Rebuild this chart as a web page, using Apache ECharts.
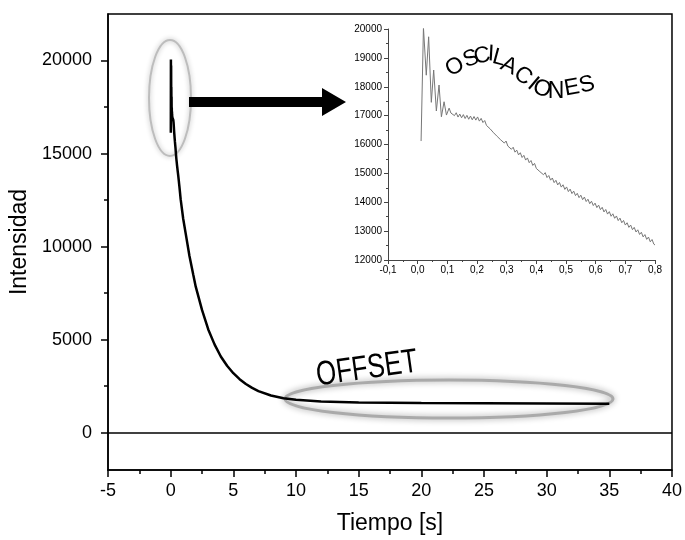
<!DOCTYPE html>
<html>
<head>
<meta charset="utf-8">
<script src="https://cdn.jsdelivr.net/npm/echarts@6/dist/echarts.min.js"></script>
<style>html,body{margin:0;padding:0;background:#fff}#c{width:685px;height:540px}</style>
</head>
<body>
<div id="c"></div>
<script>
// ---- data ----
const xMainTicks = [-5, 0, 5, 10, 15, 20, 25, 30, 35, 40];
const yMainTicks = [0, 5000, 10000, 15000, 20000];
const yMainMinorTicks = [2500, 7500, 12500, 17500];

// first large oscillations (t [s], intensity)
const spikes = [[0.0115,16120],[0.0195,20050],[0.029,18400],[0.037,19730],[0.046,17460],[0.054,18580],[0.063,17160],[0.072,18060],[0.080,16960],[0.089,17480],[0.097,17020]];

// small ripple from 0.1 s to 0.8 s
const ripple = [
[0.106,17260],[0.112,17090],[0.118,17150],[0.124,17000],[0.130,17100],[0.136,16950],[0.142,17055],[0.148,16925],[0.154,17035],[0.160,16900],
[0.166,17010],[0.172,16875],[0.178,16985],[0.184,16855],[0.190,16970],[0.196,16845],[0.202,16955],[0.208,16810],[0.214,16905],[0.220,16760],
[0.226,16830],[0.232,16660],[0.238,16725],[0.244,16545],[0.250,16595],[0.256,16405],[0.262,16460],[0.268,16280],[0.274,16340],[0.280,16160],
[0.286,16225],[0.292,16050],[0.298,16120],[0.304,15945],[0.310,16010],[0.316,15835],[0.322,15905],[0.328,15735],[0.334,15805],[0.340,15640],
[0.346,15715],[0.352,15550],[0.358,15625],[0.364,15460],[0.370,15535],[0.376,15370],[0.382,15445],[0.388,15275],[0.394,15345],[0.400,15170],
[0.406,15235],[0.412,15060],[0.418,15125],[0.424,14955],[0.430,15025],[0.436,14855],[0.442,14925],[0.448,14765],[0.454,14840],[0.460,14680],
[0.466,14760],[0.472,14600],[0.478,14685],[0.484,14525],[0.490,14605],[0.496,14445],[0.502,14530],[0.508,14370],[0.514,14455],[0.520,14300],
[0.526,14385],[0.532,14230],[0.538,14310],[0.544,14160],[0.550,14245],[0.556,14090],[0.562,14180],[0.568,14025],[0.574,14105],[0.580,13950],
[0.586,14035],[0.592,13885],[0.598,13970],[0.604,13815],[0.610,13900],[0.616,13745],[0.622,13825],[0.628,13665],[0.634,13750],[0.640,13590],
[0.646,13675],[0.652,13515],[0.658,13600],[0.664,13445],[0.670,13525],[0.676,13365],[0.682,13450],[0.688,13290],[0.694,13370],[0.700,13210],
[0.706,13290],[0.712,13130],[0.718,13210],[0.724,13050],[0.730,13130],[0.736,12970],[0.742,13045],[0.748,12885],[0.754,12960],[0.760,12800],
[0.766,12880],[0.772,12715],[0.778,12795],[0.784,12630],[0.790,12710],[0.796,12550],[0.800,12520]
];

// slow decay towards the offset
const decay = [[1.0,11500],[1.2,10700],[1.5,9500],[1.8,8500],[2.0,7850],[2.5,6600],[3.0,5550],[3.5,4750],[4.0,4100],[4.5,3600],[5.0,3200],[5.5,2880],[6.0,2620],[6.5,2410],[7.0,2240],[8.0,2000],[9.0,1860],[10.0,1770],[12.0,1680],[15.0,1630],[20.0,1600],[25.0,1585],[30.0,1570],[35.0,1560]];

const mainData = spikes.concat(ripple, decay);
const insetData = spikes.concat(ripple);

const FONT = 'Liberation Sans, Arial, sans-serif';

// letters of the arched label (pixel layout)
const arcLetters = [
  ['O',455,67,32],['S',471,59,20],['C',482,56,10],['I',491,54,-3],['L',499,58,-15],['A',509,66,-25],
  ['C',523,76,-35],['I',533,84,-40],['O',542,89,-20],['N',556,92,0],['E',572,88,10],['S',587,85,15]
];

const chart = echarts.init(document.getElementById('c'), null, {renderer:'canvas'});

const graphics = [
  {type:'ellipse', shape:{cx:170, cy:98, rx:21, ry:58}, silent:true, z:1,
   style:{fill:'none', stroke:'#bdbdbd', lineWidth:2, shadowBlur:5, shadowColor:'rgba(0,0,0,0.3)'}},
  {type:'ellipse', shape:{cx:449, cy:399, rx:164, ry:19}, silent:true, z:1,
   style:{fill:'none', stroke:'#aaaaaa', lineWidth:3, shadowBlur:6, shadowColor:'rgba(0,0,0,0.4)'}},
  {type:'polygon', shape:{points:[[189,97],[322,97],[322,88],[346,102],[322,116],[322,107],[189,107]]},
   style:{fill:'#000'}, silent:true, z:5},
  {type:'text', x:367, y:369, rotation:8*Math.PI/180, scaleX:0.76, silent:true, z:5,
   style:{text:'OFFSET', font:'34px '+FONT, fill:'#000', align:'center', verticalAlign:'middle'}}
];
arcLetters.forEach(function(l){
  graphics.push({type:'text', x:l[1], y:l[2], rotation:l[3]*Math.PI/180, silent:true, z:5,
    style:{text:l[0], font:'23px '+FONT, fill:'#000', align:'center', verticalAlign:'middle'}});
});

const plain = function(v){ return String(v); };

chart.setOption({
  backgroundColor:'#fff',
  animation:false,
  textStyle:{fontFamily:FONT},
  grid:[
    {left:108, right:10, top:14, bottom:69, show:true, borderColor:'#000', borderWidth:1.5, backgroundColor:'transparent'},
    {left:388, right:30, top:29, bottom:280}
  ],
  xAxis:[
    {type:'value', gridIndex:0, min:-5, max:40, interval:5,
     axisLine:{show:true, onZero:false, lineStyle:{color:'#000', width:1.5}},
     axisTick:{show:true, length:7, lineStyle:{color:'#000', width:1.5}},
     minorTick:{show:true, splitNumber:2, length:4, lineStyle:{color:'#000', width:1.5}},
     axisLabel:{fontSize:18, color:'#000', margin:12, fontFamily:FONT, formatter:plain},
     splitLine:{show:false},
     name:'Tiempo [s]', nameLocation:'middle', nameGap:42,
     nameTextStyle:{fontSize:23, color:'#000', fontFamily:FONT}},
    {type:'value', gridIndex:1, min:-0.1, max:0.8, interval:0.1,
     axisLine:{show:true, onZero:false, lineStyle:{color:'#444', width:1}},
     axisTick:{show:true, length:4, lineStyle:{color:'#444'}},
     minorTick:{show:true, splitNumber:2, length:2, lineStyle:{color:'#444'}},
     axisLabel:{fontSize:10, color:'#000', margin:5, fontFamily:FONT,
       formatter:function(v){return v.toFixed(1).replace('.', ',');}},
     splitLine:{show:false}}
  ],
  yAxis:[
    {type:'value', gridIndex:0, position:'left', min:-2000, max:22500,
     axisLine:{show:true, onZero:false, lineStyle:{color:'#000', width:1.5}},
     axisTick:{show:true, length:7, customValues:yMainTicks, lineStyle:{color:'#000', width:1.5}},
     axisLabel:{fontSize:18, color:'#000', margin:16, customValues:yMainTicks, fontFamily:FONT, formatter:plain},
     splitLine:{show:false},
     name:'Intensidad', nameLocation:'middle', nameGap:64, nameRotate:90,
     nameTextStyle:{fontSize:23, color:'#000', fontFamily:FONT}},
    {type:'value', gridIndex:0, position:'left', min:-2000, max:22500,
     axisLine:{show:false, onZero:false},
     axisTick:{show:true, length:4, customValues:yMainMinorTicks, lineStyle:{color:'#000', width:1.5}},
     axisLabel:{show:false},
     splitLine:{show:false}},
    {type:'value', gridIndex:1, position:'left', min:12000, max:20000, interval:1000,
     axisLine:{show:true, onZero:false, lineStyle:{color:'#444', width:1}},
     axisTick:{show:true, length:4, lineStyle:{color:'#444'}},
     minorTick:{show:true, splitNumber:2, length:2, lineStyle:{color:'#444'}},
     axisLabel:{fontSize:10, color:'#000', margin:6, fontFamily:FONT, formatter:plain},
     splitLine:{show:false}}
  ],
  series:[
    {type:'line', xAxisIndex:0, yAxisIndex:0, data:mainData, showSymbol:false, symbol:'none',
     lineStyle:{color:'#000', width:2.5}, z:3, clip:true,
     markLine:{silent:true, symbol:['none','none'], label:{show:false},
       lineStyle:{color:'#000', width:1.5, type:'solid'}, data:[{yAxis:0}]}},
    {type:'line', xAxisIndex:1, yAxisIndex:2, data:insetData, showSymbol:false, symbol:'none',
     lineStyle:{color:'#777', width:1}, z:3, clip:true}
  ],
  graphic:graphics
});
</script>
</body>
</html>
